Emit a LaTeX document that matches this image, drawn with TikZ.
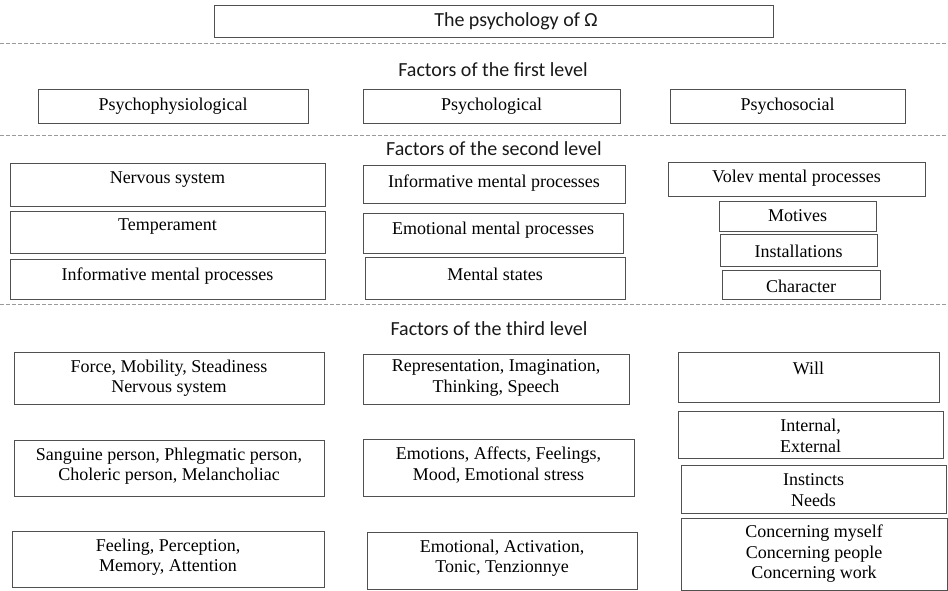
\documentclass[tikz,border=0pt]{standalone}
\usepackage{fontspec}
\setmainfont{Liberation Serif}
\newfontfamily\hdrfont{Carlito}
\usetikzlibrary{fit}
\definecolor{boxgray}{HTML}{505050}
\definecolor{dashgray}{HTML}{9A9A9A}
\tikzset{
  box/.style={draw=boxgray, line width=0.9pt, inner sep=0pt},
  txt/.style={font=\fontsize{18}{20.5}\selectfont, align=center, inner sep=0pt, text=black},
  hd/.style={font=\hdrfont\fontsize{20}{24}\selectfont, inner sep=0pt, text=black!90},
  sepline/.style={draw=dashgray, dash pattern=on 4pt off 2pt, line width=0.9pt}
}
\newcommand{\bx}[7]{%
  \node[box, fit={(#2,#3) (#4,#5)}] (#1) {};
  \node[txt] (#1-t) at ({(#2+#4)/2},#6) {#7};
}
\begin{document}
\begin{tikzpicture}[x=1pt,y=-1pt]
\useasboundingbox (0,0) rectangle (948,591);
% top
\node[box, fit={(214,5) (773,37)}] (top) {};
\node[hd] (top-t) at (516,21) {The psychology of Ω};
% separators
\coordinate (s1a) at (0,43);  \coordinate (s1b) at (948,43);
\coordinate (s2a) at (0,135); \coordinate (s2b) at (948,135);
\coordinate (s3a) at (0,304); \coordinate (s3b) at (948,304);
\draw[sepline] (s1a) -- (s1b);
\draw[sepline] (s2a) -- (s2b);
\draw[sepline] (s3a) -- (s3b);
% headers
\node[hd] (h1) at (493,70) {Factors of the first level};
\node[hd] (h2) at (494,149) {Factors of the second level};
\node[hd] (h3) at (489,329) {Factors of the third level};
% level 1
\bx{l1a}{38}{89}{308}{123}{106}{Psychophysiological}
\bx{l1b}{363}{89}{620}{123}{106}{Psychological}
\bx{l1c}{670}{89}{905}{123}{106}{Psychosocial}
% level 2
\bx{l2a}{10}{163}{325}{206}{180}{Nervous system}
\bx{l2b}{10}{211}{325}{253}{227}{Temperament}
\bx{l2c}{10}{259}{325}{299}{276}{Informative mental processes}
\bx{l2d}{363}{165}{625}{203}{183}{Informative mental processes}
\bx{l2e}{363}{213}{623}{253}{230}{Emotional mental processes}
\bx{l2f}{365}{257}{625}{299}{274}{Mental states}
\bx{l2g}{668}{162}{925}{196}{178}{Volev mental processes}
\bx{l2h}{719}{201}{876}{231}{216}{Motives}
\bx{l2i}{720}{234}{877}{266}{251}{Installations}
\bx{l2j}{722}{270}{880}{299}{286}{Character}
% level 3
\bx{l3a}{14}{352}{324}{404}{378}{Force, Mobility, Steadiness\\Nervous system}
\bx{l3b}{14}{440}{324}{496}{466}{Sanguine person, Phlegmatic person,\\Choleric person, Melancholiac}
\bx{l3c}{12}{531}{324}{587}{557}{Feeling, Perception,\\Memory, Attention}
\bx{l3d}{363}{354}{629}{404}{378}{Representation, Imagination,\\Thinking, Speech}
\bx{l3e}{363}{439}{634}{496}{465}{Emotions, Affects, Feelings,\\Mood, Emotional stress}
\bx{l3f}{367}{532}{637}{589}{558}{Emotional, Activation,\\Tonic, Tenzionnye}
\bx{l3g}{678}{352}{939}{402}{368}{Will}
\bx{l3h}{678}{411}{943}{458}{436}{Internal,\\External}
\bx{l3i}{681}{465}{946}{513}{490}{Instincts\\Needs}
\bx{l3j}{681}{518}{947}{590}{554}{Concerning myself\\Concerning people\\Concerning work}
\end{tikzpicture}
\end{document}
